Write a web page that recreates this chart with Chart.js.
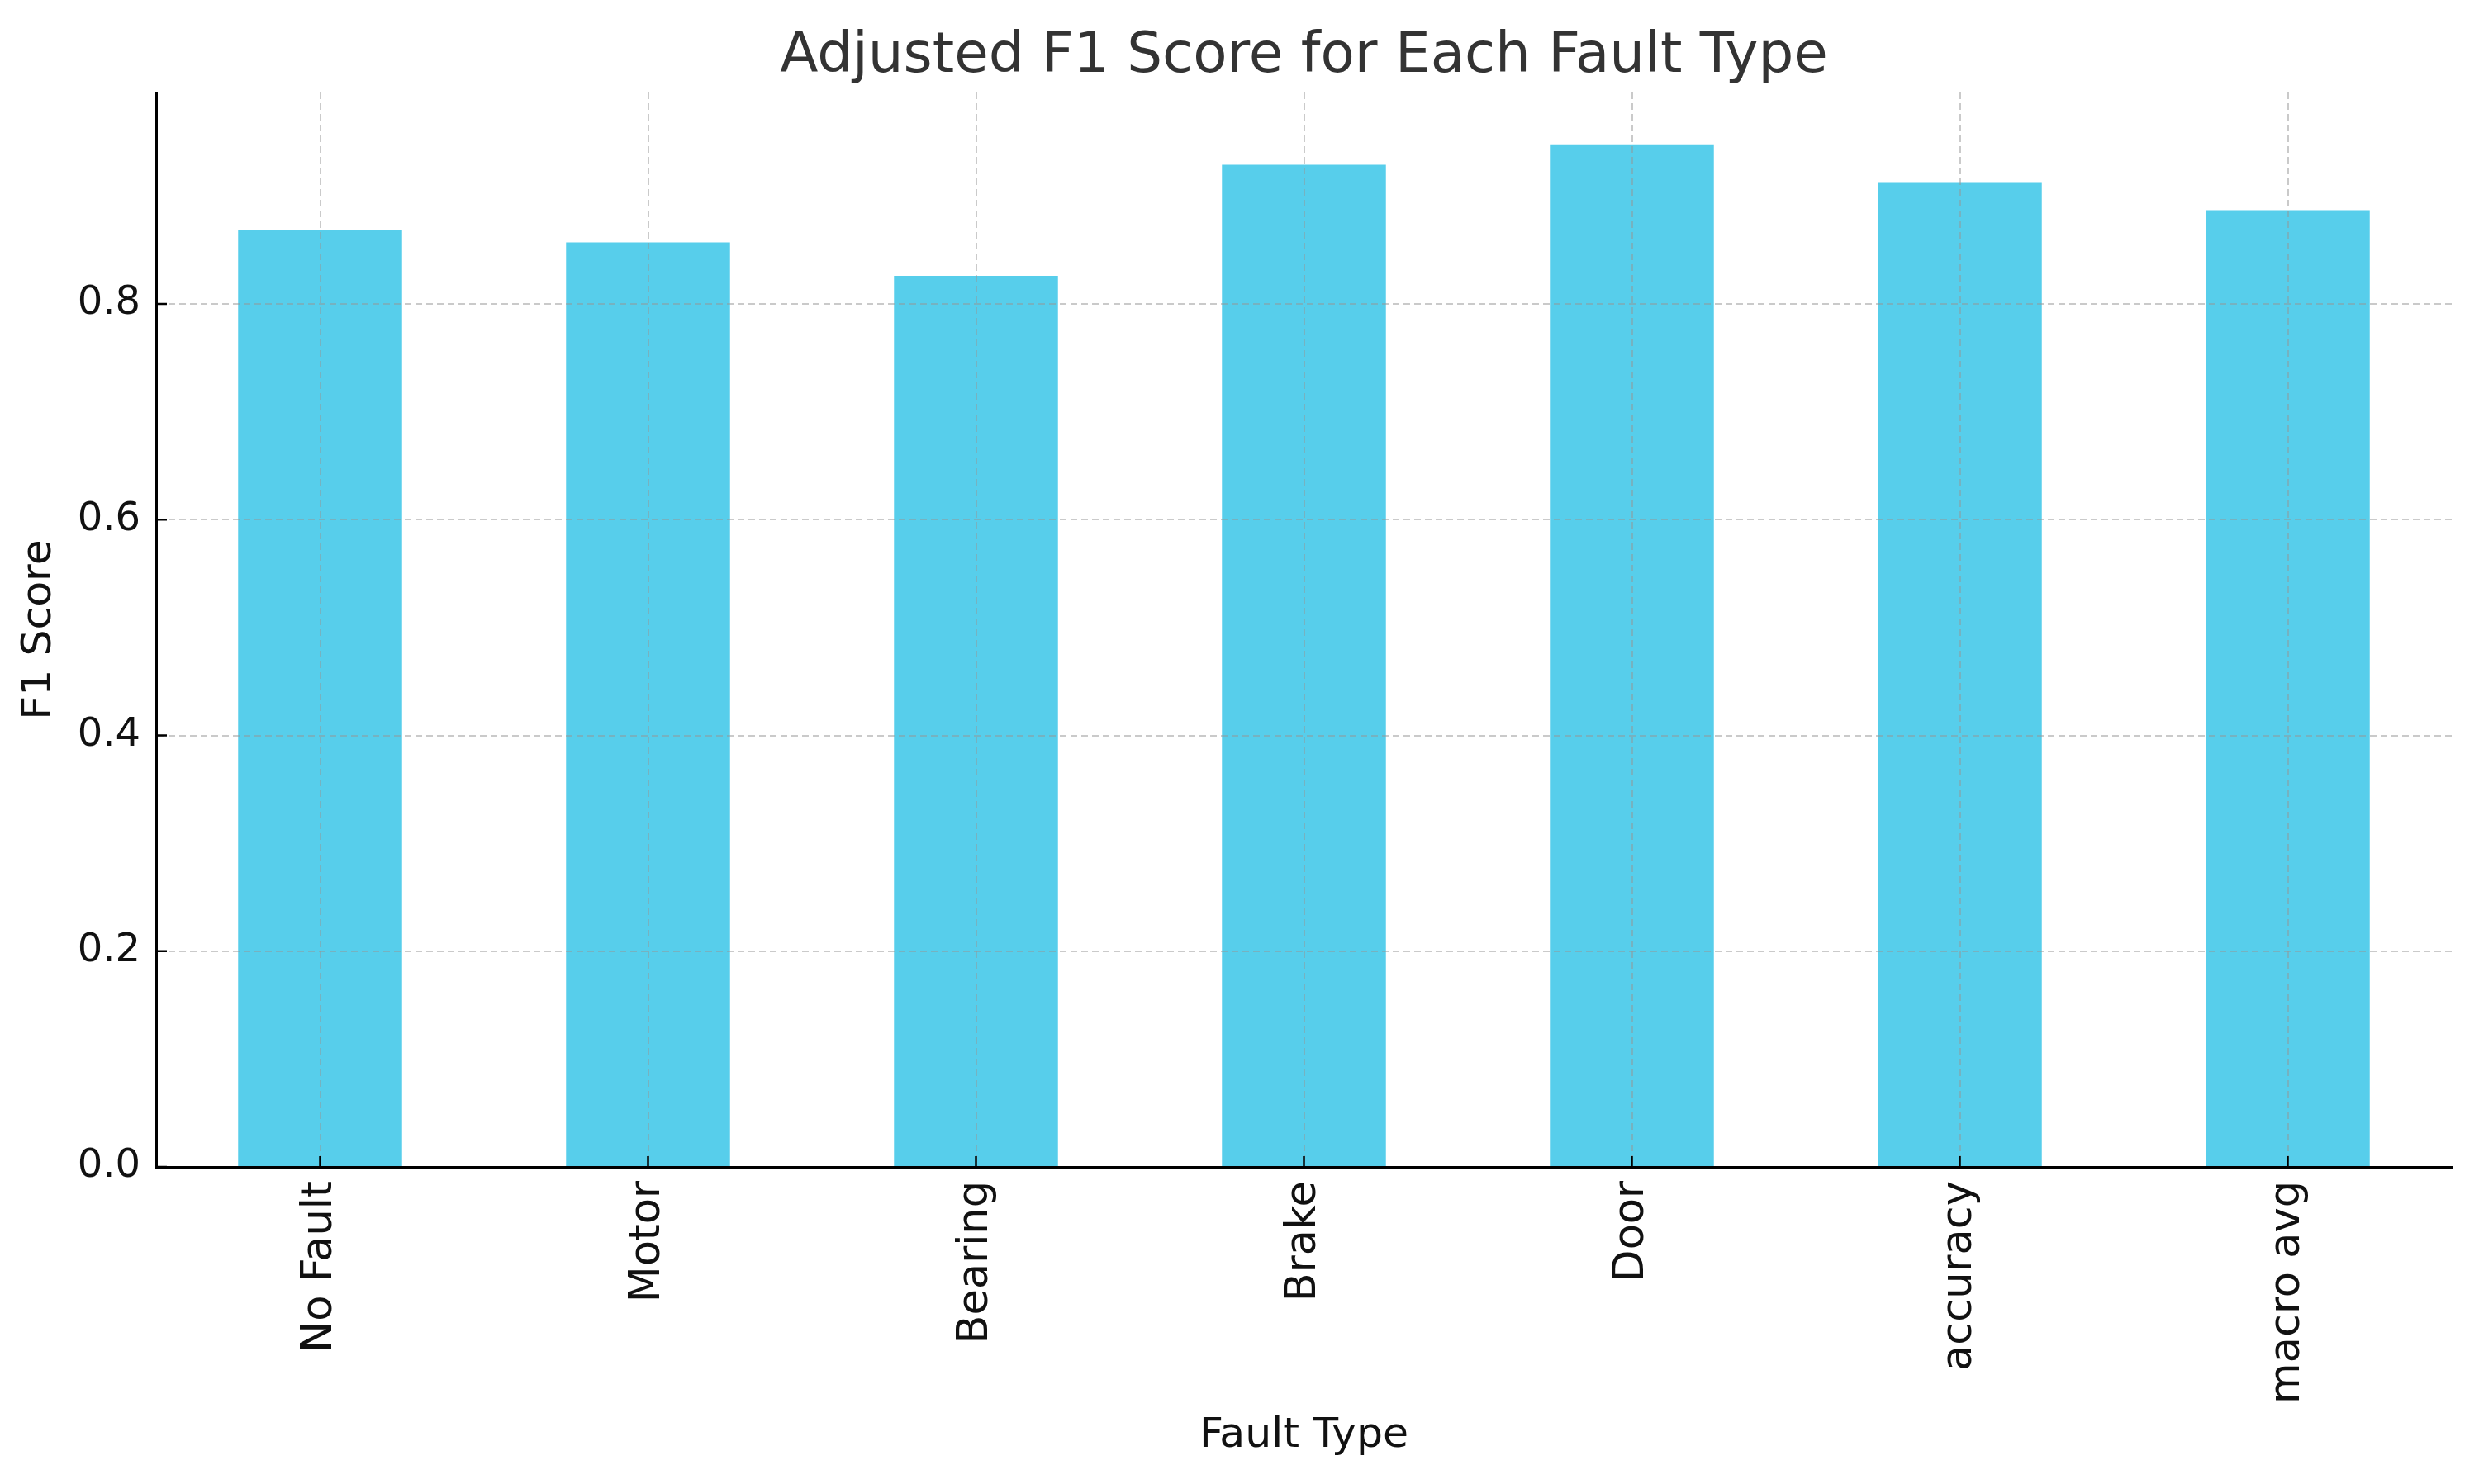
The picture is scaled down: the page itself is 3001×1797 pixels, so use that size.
<!DOCTYPE html>
<html>
<head>
<meta charset="utf-8">
<script src="https://cdn.jsdelivr.net/npm/chart.js@4/dist/chart.umd.min.js"></script>
<style>
  html, body { margin: 0; padding: 0; background: #ffffff; }
  #wrap { width: 3001px; height: 1797px; }
</style>
</head>
<body>
<div id="wrap"><canvas id="c" width="3001" height="1797"></canvas></div>
<script>
// ---- data ----
const categories = ["No Fault", "Motor", "Bearing", "Brake", "Door", "accuracy", "macro avg"];
const f1Scores = [0.869, 0.857, 0.826, 0.929, 0.948, 0.913, 0.887];
const yTickStep = 0.2;
const yMin = 0;
const yMax = 0.996;
const titleText = "Adjusted F1 Score for Each Fault Type";
const xTitle = "Fault Type";
const yTitle = "F1 Score";

const FONT = "'DejaVu Sans', 'Liberation Sans', sans-serif";
const gridColor = "rgba(150,150,150,0.5)";

// centre the chart title over the plot area (as matplotlib does)
const titleOverArea = {
  id: 'titleOverArea',
  afterLayout(chart) {
    const tb = chart.titleBlock;
    if (tb) {
      tb.left = chart.chartArea.left;
      tb.right = chart.chartArea.right;
      tb.width = tb.right - tb.left;
    }
  }
};

const inwardTicks = {
  id: 'inwardTicks',
  afterDraw(chart) {
    const ctx = chart.ctx;
    const xs = chart.scales.x, ys = chart.scales.y;
    const area = chart.chartArea;
    ctx.save();
    ctx.strokeStyle = '#000000';
    ctx.lineWidth = 2.5;
    ctx.beginPath();
    ys.ticks.forEach((t, i) => {
      const y = ys.getPixelForTick(i);
      ctx.moveTo(area.left, y);
      ctx.lineTo(area.left + 13, y);
    });
    xs.ticks.forEach((t, i) => {
      const x = xs.getPixelForValue(i);
      ctx.moveTo(x, area.bottom);
      ctx.lineTo(x, area.bottom - 13);
    });
    ctx.stroke();
    ctx.restore();
  }
};

new Chart(document.getElementById('c'), {
  type: 'bar',
  data: {
    labels: categories,
    datasets: [{
      label: 'F1 Score',
      data: f1Scores,
      backgroundColor: '#57CEEB',
      borderWidth: 0,
      categoryPercentage: 1.0,
      barPercentage: 0.5
    }]
  },
  options: {
    responsive: false,
    devicePixelRatio: 1,
    animation: false,
    layout: { padding: { top: 0, left: 0, right: 33, bottom: 0 } },
    plugins: {
      legend: { display: false },
      tooltip: { enabled: false },
      title: {
        display: true,
        text: titleText,
        color: '#333333',
        font: { family: FONT, size: 67.5, weight: 'normal', lineHeight: 1.2 },
        padding: { top: 29, bottom: 2 }
      }
    },
    scales: {
      x: {
        type: 'category',
        offset: true,
        afterFit(scale) { scale.height = 384; },
        grid: {
          display: true,
          offset: false,
          drawTicks: false,
          color: gridColor,
          lineWidth: 2,
          z: 1
        },
        border: { display: true, color: '#000000', width: 3, dash: [8, 5], z: 2 },
        ticks: {
          autoSkip: false,
          minRotation: 90,
          maxRotation: 90,
          padding: 17,
          color: '#111111',
          font: { family: FONT, size: 51 }
        },
        title: {
          display: true,
          text: xTitle,
          color: '#111111',
          font: { family: FONT, size: 50.5, lineHeight: 1.2 },
          padding: { top: 0, bottom: 28 }
        }
      },
      y: {
        min: yMin,
        max: yMax,
        afterFit(scale) { scale.width = 189; },
        grid: {
          display: true,
          drawTicks: false,
          color: gridColor,
          lineWidth: 2,
          z: 1
        },
        border: { display: true, color: '#000000', width: 3, dash: [8, 5], z: 2 },
        ticks: {
          stepSize: yTickStep,
          includeBounds: false,
          padding: 19,
          color: '#111111',
          font: { family: FONT, size: 48 },
          callback: (v) => Number(v).toFixed(1)
        },
        title: {
          display: true,
          text: yTitle,
          color: '#111111',
          font: { family: FONT, size: 50.5, lineHeight: 1.2 },
          padding: { top: 18, bottom: 0 }
        }
      }
    }
  },
  plugins: [titleOverArea, inwardTicks]
});
</script>
</body>
</html>
